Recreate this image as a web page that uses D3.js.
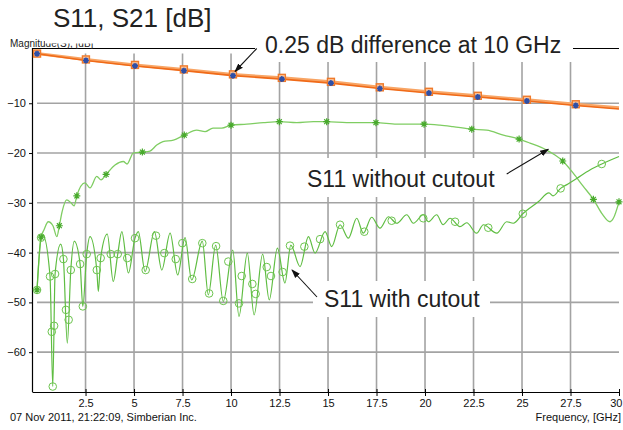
<!DOCTYPE html>
<html>
<head>
<meta charset="utf-8">
<script src="https://cdn.jsdelivr.net/npm/d3@7"></script>
<style>
body { margin: 0; background: #fff; }
svg { display: block; font-family: "Liberation Sans", Arial, sans-serif; }
</style>
</head>
<body>
<svg width="623" height="430"></svg>
<script>
const svg = d3.select("svg");

// Axis ticks
const xTicks = [2.5, 5, 7.5, 10, 12.5, 15, 17.5, 20, 22.5, 25, 27.5, 30];
const yTicks = [-10, -20, -30, -40, -50, -60];

// S21 (both traces nearly on top of each other)
const s21Freq   = [0, 2.52, 5.05, 7.57, 10.1, 12.62, 15.15, 17.67, 20.2, 22.72, 25.25, 27.77, 30];
const s21NoCut  = [-0.02, -1.2, -2.3, -3.2, -4.2, -4.9, -5.7, -6.8, -7.7, -8.5, -9.3, -10.2, -10.9];
const s21Cut    = [-0.05, -1.4, -2.5, -3.45, -4.45, -5.15, -5.95, -7.05, -7.95, -8.75, -9.55, -10.45, -11.15];

// S11 without cutout
const s11NoCutFreq = [0, 0.21, 0.36, 0.58, 0.82, 1.02, 1.15, 1.29, 1.53, 1.75, 1.91, 2.05, 2.47, 2.73, 3.08,
    3.30, 3.56, 4.02, 4.45, 4.64, 4.96, 5.43, 5.82, 6.17, 6.49, 7.03, 7.59, 8.23, 8.66, 9.07, 9.52, 10.0,
    10.81, 11.67, 12.49, 13.39, 14.24, 14.93, 15.96, 17.47, 18.54, 19.95, 20.77, 21.44, 22.41, 23.18,
    24.04, 24.85, 25.41, 26.27, 26.70, 27.10, 27.65, 28.14, 28.68, 29.11, 29.54, 29.71, 30.0];
const s11NoCutDb = [-47.5, -36.9, -35.4, -33.8, -34.6, -36.8, -34.6, -31.8, -29.4, -30.0, -30.6, -28.6, -26.0, -27.0, -24.7,
    -25.4, -24.3, -22.4, -21.7, -22.2, -20.0, -19.8, -19.6, -18.4, -17.7, -17.4, -16.4, -15.4, -15.7, -15.0, -15.0, -14.4,
    -14.2, -13.9, -13.7, -13.9, -13.7, -13.7, -13.9, -13.9, -14.2, -14.2, -14.4, -14.7, -15.2, -15.4,
    -16.4, -17.2, -18.0, -19.4, -20.4, -21.6, -24.1, -26.6, -29.3, -32.1, -33.8, -33.1, -29.8];
const s11NoCutMarkFreq = [0, 0.21, 1.15, 2.05, 3.56, 5.43, 7.59, 10.0, 12.49, 14.93, 17.47, 19.95, 22.41, 24.85, 27.10, 28.68, 30.0];
const s11NoCutMarkDb   = [-47.5, -36.9, -34.6, -28.6, -24.3, -19.8, -16.4, -14.4, -13.7, -13.7, -13.9, -14.2, -15.2, -17.2, -21.6, -29.3, -29.8];

// S11 with cutout
const s11CutFreq = [0, 0.21, 0.31, 0.67, 0.81, 0.93, 1.22, 1.36, 1.56, 1.74, 1.92, 2.22, 2.36, 2.56, 2.73,
    3.08, 3.16, 3.28, 3.62, 3.93, 4.16, 4.37, 4.71, 5.05, 5.22, 5.57, 6.05, 6.43, 6.86, 7.25,
    7.63, 7.97, 8.52, 8.83, 9.21, 9.60, 10.09, 10.41, 10.84, 11.19, 11.63, 11.97, 12.39, 12.78, 13.08,
    13.56, 13.99, 14.33, 14.85, 15.19, 15.62, 16.05, 16.48, 16.82, 17.25, 17.68, 18.11, 18.54, 19.06, 19.40,
    19.91, 20.17, 20.60, 20.93, 21.29, 21.80, 22.15, 22.66, 23.01, 23.70, 24.21, 24.55, 25.04, 25.84, 26.39,
    26.6, 26.99, 27.37, 27.82, 28.5, 29.11, 30];
const s11CutDb = [-47.5, -37.0, -36.6, -44.8, -66.9, -44.3, -38.3, -41.3, -58.2, -43.5, -37.7, -42.3, -50.8, -40.3, -36.8,
    -43.5, -47.8, -41.1, -36.3, -45.8, -40.3, -35.8, -44.1, -37.1, -35.8, -43.8, -35.8, -43.5, -36.1, -44.5,
    -37.0, -45.5, -37.7, -48.5, -38.5, -49.8, -39.5, -52.8, -40.1, -52.5, -40.3, -49.5, -39.1, -46.1, -38.5,
    -42.8, -36.8, -40.1, -35.8, -38.8, -34.4, -37.1, -33.1, -36.1, -32.9, -35.1, -32.8, -34.1, -32.4, -34.1,
    -32.4, -33.8, -32.4, -34.4, -33.1, -34.8, -34.0, -36.1, -34.4, -36.1, -33.8, -34.1, -32.2, -29.8, -28.0,
    -28.6, -27.1, -26.2, -25.1, -23.4, -22.2, -20.7];
const s11CutMarkFreq = [0, 0.21, 0.67, 0.76, 0.81, 0.88, 0.93, 1.36, 1.49, 1.63, 1.74, 2.22, 2.36, 2.56, 3.08, 3.28,
    3.80, 4.16, 4.65, 5.05, 5.60, 6.13, 6.56, 7.15, 7.49, 8.0, 8.52, 8.87, 9.23, 9.60, 9.86,
    10.41, 10.55, 11.10, 11.27, 11.84, 12.06, 12.66, 13.04, 13.78, 14.59, 15.62, 16.87, 18.28, 19.91, 21.55,
    23.26, 25.04, 26.99, 29.11];
const s11CutMarkDb = [-47.5, -37.0, -44.8, -55.9, -66.9, -54.7, -44.3, -41.3, -51.5, -53.5, -43.5, -42.3, -50.8, -40.3, -43.5, -41.1,
    -40.3, -40.3, -41.1, -37.1, -43.5, -36.6, -40.1, -41.3, -38.1, -45.3, -38.1, -48.2, -38.7, -49.7, -41.8,
    -50.2, -44.7, -46.3, -48.3, -42.9, -44.7, -43.9, -38.6, -38.8, -37.3, -34.4, -35.8, -33.6, -33.1, -33.8,
    -35.0, -32.2, -27.1, -22.2];

const zip = (fs, vs) => fs.map((f, i) => ({ f: f, v: vs[i] }));

const x = d3.scaleLinear().domain([-0.26, 30]).range([32, 619]);
const y = d3.scaleLinear().domain([-68, 1.1]).range([392, 48]);

const gridColour = "#a3a3a3";

// Grid
const grid = svg.append("g");
grid.selectAll(".vg").data(xTicks.filter(t => t < 30)).enter().append("line")
    .attr("x1", d => x(d)).attr("x2", d => x(d))
    .attr("y1", y(0)).attr("y2", y(-68))
    .attr("stroke", gridColour).attr("stroke-width", 1.6);
grid.selectAll(".hg").data(yTicks).enter().append("line")
    .attr("x1", x(0)).attr("x2", x(30))
    .attr("y1", d => y(d)).attr("y2", d => y(d))
    .attr("stroke", gridColour).attr("stroke-width", 1.6);

// Top frame line
svg.append("line").attr("x1", 32).attr("x2", 619).attr("y1", 48.5).attr("y2", 48.5)
    .attr("stroke", "#000").attr("stroke-width", 1);

// Axes
const xAxis = svg.append("g")
    .attr("transform", `translate(0,${y(-68)})`)
    .call(d3.axisBottom(x).tickValues(xTicks).tickSizeInner(4).tickSizeOuter(0).tickFormat(d => String(d)));
xAxis.selectAll(".tick line").attr("y1", -3);
// the last label sits against the right edge
xAxis.selectAll(".tick text").filter(d => d === 30).attr("text-anchor", "end").attr("x", 3);
const yAxis = svg.append("g")
    .attr("transform", `translate(${x.range()[0]},0)`)
    .call(d3.axisLeft(y).tickValues(yTicks).tickSizeInner(3).tickSizeOuter(0));
[xAxis, yAxis].forEach(a => {
    a.select(".domain").attr("stroke", "#000").attr("stroke-width", 1.2);
    a.selectAll("text").attr("font-size", 11).attr("fill", "#111")
        .attr("font-family", "'Liberation Sans', Arial, sans-serif");
});
yAxis.select(".domain").attr("d", `M0.5,${y.range()[1]}V${y.range()[0]}`);

// Small y label, partly hidden by the title
svg.append("text").attr("x", 10).attr("y", 47).attr("font-size", 10).attr("fill", "#222")
    .text("Magnitude(S), [dB]");

// White label boxes (they hide grid behind them)
const boxes = [
    { x: 45, y: 0, w: 180, h: 43.5 },
    { x: 255, y: 26, w: 318, h: 36 },
    { x: 300, y: 158, w: 205, h: 39 },
    { x: 313, y: 281, w: 177, h: 36 }
];
svg.selectAll(".box").data(boxes).enter().append("rect")
    .attr("x", d => d.x).attr("y", d => d.y).attr("width", d => d.w).attr("height", d => d.h)
    .attr("fill", "#fff");

// Lines
const line = d3.line().x(d => x(d.f)).y(d => y(d.v)).curve(d3.curveMonotoneX);
const lineLin = d3.line().x(d => x(d.f)).y(d => y(d.v));

svg.append("path").datum(zip(s11NoCutFreq, s11NoCutDb))
    .attr("d", line).attr("fill", "none").attr("stroke", "#7fcd62").attr("stroke-width", 1.3);
svg.append("path").datum(zip(s11CutFreq, s11CutDb))
    .attr("d", line).attr("fill", "none").attr("stroke", "#5fbd42").attr("stroke-width", 1.2);

svg.append("path").datum(zip(s21Freq, s21NoCut))
    .attr("d", lineLin).attr("fill", "none").attr("stroke", "#f8a565").attr("stroke-width", 3);
svg.append("path").datum(zip(s21Freq, s21Cut))
    .attr("d", lineLin).attr("fill", "none").attr("stroke", "#f06a18").attr("stroke-width", 1.6);

// Markers
const asterisk = r => `M0,${-r}V${r}M${-r},0H${r}M${-r * 0.7},${-r * 0.7}L${r * 0.7},${r * 0.7}M${-r * 0.7},${r * 0.7}L${r * 0.7},${-r * 0.7}`;

svg.selectAll(".mc").data(zip(s11CutMarkFreq, s11CutMarkDb)).enter().append("circle")
    .attr("cx", d => x(d.f)).attr("cy", d => y(d.v)).attr("r", 3.8)
    .attr("fill", "none").attr("stroke", "#6cc44e").attr("stroke-width", 1);

svg.selectAll(".ms").data(zip(s11NoCutMarkFreq, s11NoCutMarkDb)).enter().append("path")
    .attr("transform", d => `translate(${x(d.f)},${y(d.v)})`)
    .attr("d", asterisk(3.5)).attr("fill", "none").attr("stroke", "#48aa2c").attr("stroke-width", 1.2);

const s21Marks = zip(s21Freq, s21NoCut).slice(0, 12);
svg.selectAll(".sq").data(s21Marks).enter().append("rect")
    .attr("x", d => x(d.f) - 3.5).attr("y", d => y(d.v) - 3.5).attr("width", 7).attr("height", 7)
    .attr("fill", "#fbc196").attr("stroke", "#f07a2a").attr("stroke-width", 1.4);
svg.selectAll(".bs").data(zip(s21Freq, s21Cut).slice(0, 12)).enter().append("path")
    .attr("transform", d => `translate(${x(d.f)},${y(d.v)})`)
    .attr("d", asterisk(3)).attr("fill", "none").attr("stroke", "#2f4fa6").attr("stroke-width", 1.6);

// Annotations
svg.append("defs").append("marker")
    .attr("id", "arr").attr("viewBox", "0 0 10 10").attr("refX", 9).attr("refY", 5)
    .attr("markerWidth", 9).attr("markerHeight", 9).attr("orient", "auto")
    .attr("markerUnits", "userSpaceOnUse")
    .append("path").attr("d", "M0,1.5L10,5L0,8.5Z").attr("fill", "#111");

const arrows = [
    [256.7, 48.5, 235, 71.5],
    [506.7, 174, 548.3, 149.3],
    [317, 297, 292, 270]
];
svg.selectAll(".arr").data(arrows).enter().append("line")
    .attr("x1", d => d[0]).attr("y1", d => d[1]).attr("x2", d => d[2]).attr("y2", d => d[3])
    .attr("stroke", "#111").attr("stroke-width", 1.1).attr("marker-end", "url(#arr)");

svg.append("text").attr("x", 53).attr("y", 27).attr("font-size", 26).attr("fill", "#222")
    .text("S11, S21 [dB]");
svg.append("text").attr("x", 265).attr("y", 53).attr("font-size", 23).attr("fill", "#222")
    .text("0.25 dB difference at 10 GHz");
svg.append("text").attr("x", 307).attr("y", 187).attr("font-size", 23).attr("fill", "#222")
    .text("S11 without cutout");
svg.append("text").attr("x", 324).attr("y", 306.5).attr("font-size", 23).attr("fill", "#222")
    .text("S11 with cutout");

svg.append("text").attr("x", 10).attr("y", 421).attr("font-size", 11).attr("fill", "#111")
    .text("07 Nov 2011, 21:22:09, Simberian Inc.");
svg.append("text").attr("x", 621).attr("y", 421).attr("font-size", 11).attr("fill", "#111")
    .attr("text-anchor", "end")
    .text("Frequency, [GHz]");
</script>
</body>
</html>
